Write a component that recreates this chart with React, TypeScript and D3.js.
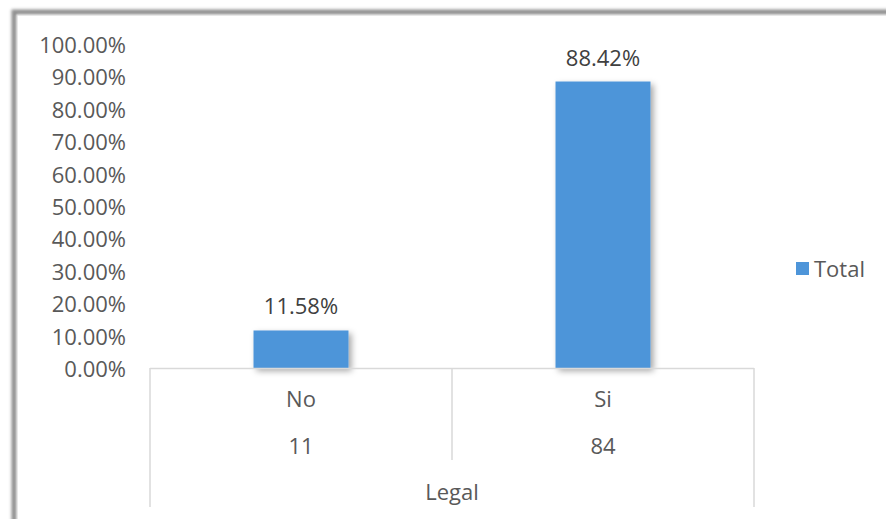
import React from "react";
import * as d3 from "d3";

const categories = ["No", "Si"];
const counts = ["11", "84"];
const values = [0.1158, 0.8842];
const yTicks = [0, 0.1, 0.2, 0.3, 0.4, 0.5, 0.6, 0.7, 0.8, 0.9, 1.0];
const groupLabel = "Legal";
const seriesName = "Total";

const W = 886;
const H = 519;
const FONT = "'Open Sans', 'Noto Sans', sans-serif";
const TEXT = "#595959";
const BAR = "#4e95d9";
const GRID = "#d9d9d9";
const FS = 22;

export default function App() {
  const left = 150;
  const right = 754;
  const top = 44;
  const bottom = 368;
  const x = d3.scaleBand<string>().domain(categories).range([left, right]).paddingInner(0).paddingOuter(0);
  const y = d3.scaleLinear().domain([0, 1]).range([bottom, top]);
  const barW = 95;
  const fmt = d3.format(".2%");

  return (
    <svg width={W} height={H} style={{ position: "absolute", left: 0, top: 0, display: "block" }} fontFamily={FONT}>
      <defs>
        <filter id="barShadow" x="-30%" y="-30%" width="160%" height="160%">
          <feDropShadow dx="3" dy="3" stdDeviation="3" floodColor="#000" floodOpacity="0.35" />
        </filter>
        <filter id="frameShadow" x="-5%" y="-5%" width="110%" height="110%">
          <feGaussianBlur stdDeviation="1.5" />
        </filter>
      </defs>
      <rect x={0} y={0} width={W} height={H} fill="#fff" />
      {/* frame */}
      <rect x={14} y={12} width={W + 20} height={H + 20} fill="none" stroke="#8f8f8f" strokeWidth={5} filter="url(#frameShadow)" />
      <rect x={17} y={15} width={W + 20} height={H + 20} fill="#fff" stroke="#cfcfcf" strokeWidth={1} />

      {/* y tick labels */}
      {yTicks.map((t) => (
        <text key={t} x={126} y={y(t)} textAnchor="end" dominantBaseline="central" fontSize={FS} fill={TEXT}>
          {fmt(t)}
        </text>
      ))}

      {/* bars */}
      {categories.map((c, i) => {
        const cx = (x(c) as number) + x.bandwidth() / 2;
        return (
          <g key={c}>
            <rect x={cx - barW / 2} y={y(values[i])} width={barW} height={bottom - y(values[i])} fill={BAR} filter="url(#barShadow)" />
            <text x={cx} y={y(values[i]) - 25} textAnchor="middle" dominantBaseline="central" fontSize={FS} fill="#404040">
              {fmt(values[i])}
            </text>
          </g>
        );
      })}

      {/* category table axis */}
      <line x1={left} x2={right} y1={bottom + 0.5} y2={bottom + 0.5} stroke={GRID} strokeWidth={1.5} />
      <line x1={left} x2={left} y1={bottom} y2={507} stroke={GRID} strokeWidth={1.5} />
      <line x1={right} x2={right} y1={bottom} y2={507} stroke={GRID} strokeWidth={1.5} />
      {categories.slice(1).map((c) => (
        <line key={c} x1={x(c) as number} x2={x(c) as number} y1={bottom} y2={460} stroke={GRID} strokeWidth={1.5} />
      ))}
      {categories.map((c, i) => {
        const cx = (x(c) as number) + x.bandwidth() / 2;
        return (
          <g key={"l" + c}>
            <text x={cx} y={398} textAnchor="middle" dominantBaseline="central" fontSize={FS} fill={TEXT}>{c}</text>
            <text x={cx} y={445} textAnchor="middle" dominantBaseline="central" fontSize={FS} fill={TEXT}>{counts[i]}</text>
          </g>
        );
      })}
      <text x={(left + right) / 2} y={491} textAnchor="middle" dominantBaseline="central" fontSize={FS} fill={TEXT}>{groupLabel}</text>

      {/* legend */}
      <rect x={796} y={262} width={13} height={13} fill={BAR} />
      <text x={814} y={268} dominantBaseline="central" fontSize={FS} fill={TEXT}>{seriesName}</text>
    </svg>
  );
}
